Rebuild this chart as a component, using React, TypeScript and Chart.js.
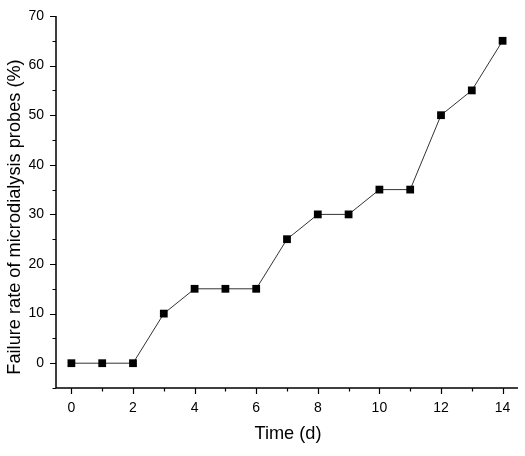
import React, { useEffect, useRef } from "react";
import { Chart, registerables } from "chart.js";

Chart.register(...registerables);

const days = [0, 1, 2, 3, 4, 5, 6, 7, 8, 9, 10, 11, 12, 13, 14];
const failureRate = [0, 0, 0, 10, 15, 15, 15, 25, 30, 30, 35, 35, 50, 55, 65];
const xTicks = [0, 2, 4, 6, 8, 10, 12, 14];
const yTicks = [0, 10, 20, 30, 40, 50, 60, 70];
const xTitle = "Time (d)";
const yTitle = "Failure rate of microdialysis probes (%)";

const FONT = "Arial, 'Liberation Sans', sans-serif";

const axesPlugin = {
  id: "originAxes",
  afterDraw(chart: any) {
    const { ctx, chartArea, scales } = chart;
    const x = scales.x;
    const y = scales.y;
    const { left, right, top, bottom } = chartArea;
    ctx.save();
    ctx.strokeStyle = "#000";
    ctx.lineWidth = 1.5;
    ctx.beginPath();
    ctx.moveTo(left, top);
    ctx.lineTo(left, bottom);
    ctx.lineTo(right, bottom);
    ctx.stroke();
    ctx.lineWidth = 1.2;
    ctx.beginPath();
    xTicks.forEach((v, i) => {
      const px = Math.round(x.getPixelForValue(v)) + 0.5;
      ctx.moveTo(px, bottom);
      ctx.lineTo(px, bottom + 6);
      if (i < xTicks.length - 1) {
        const m = Math.round(x.getPixelForValue(v + 1)) + 0.5;
        ctx.moveTo(m, bottom);
        ctx.lineTo(m, bottom + 3.5);
      }
    });
    yTicks.forEach((v) => {
      const py = Math.round(y.getPixelForValue(v)) + 0.5;
      ctx.moveTo(left, py);
      ctx.lineTo(left - 6, py);
      const m = Math.round(y.getPixelForValue(v - 5)) + 0.5;
      ctx.moveTo(left, m);
      ctx.lineTo(left - 3.5, m);
    });
    ctx.stroke();

    ctx.fillStyle = "#000";
    ctx.font = `18.2px ${FONT}`;
    ctx.textAlign = "center";
    ctx.textBaseline = "middle";
    ctx.fillText(xTitle, (left + right) / 2 + 1, 434);
    ctx.translate(15, 217);
    ctx.rotate(-Math.PI / 2);
    ctx.fillText(yTitle, 0, 0);
    ctx.restore();
  },
};

export default function App() {
  const ref = useRef<HTMLCanvasElement>(null);
  useEffect(() => {
    document.body.style.margin = "0";
    const chart = new Chart(ref.current as HTMLCanvasElement, {
      type: "line",
      data: {
        datasets: [
          {
            data: days.map((d, i) => ({ x: d, y: failureRate[i] })),
            borderColor: "#333",
            borderWidth: 1,
            pointStyle: "rect",
            pointRadius: 5.5,
            pointBackgroundColor: "#000",
            pointBorderColor: "#000",
            pointBorderWidth: 0,
            tension: 0,
          },
        ],
      },
      options: {
        responsive: false,
        animation: false,
        layout: { padding: { top: 16, right: 7, left: 0, bottom: 0 } },
        plugins: { legend: { display: false }, tooltip: { enabled: false } },
        scales: {
          x: {
            type: "linear",
            min: -0.5,
            max: 14.5,
            afterBuildTicks: (s: any) => {
              s.ticks = xTicks.map((v) => ({ value: v }));
            },
            afterFit: (s: any) => {
              s.height = 68;
            },
            grid: { display: false, drawTicks: true, tickLength: 5 },
            border: { display: false },
            ticks: {
              color: "#000",
              font: { family: FONT, size: 14 },
              padding: 7,
              maxRotation: 0,
            },
          },
          y: {
            type: "linear",
            min: -5,
            max: 70,
            afterBuildTicks: (s: any) => {
              s.ticks = yTicks.map((v) => ({ value: v }));
            },
            afterFit: (s: any) => {
              s.width = 56;
            },
            grid: { display: false, drawTicks: true, tickLength: 5 },
            border: { display: false },
            ticks: {
              color: "#000",
              font: { family: FONT, size: 14 },
              padding: 7,
            },
          },
        },
      },
      plugins: [axesPlugin],
    });
    return () => chart.destroy();
  }, []);
  return <canvas ref={ref} width={525} height={456} style={{ display: "block" }} />;
}
